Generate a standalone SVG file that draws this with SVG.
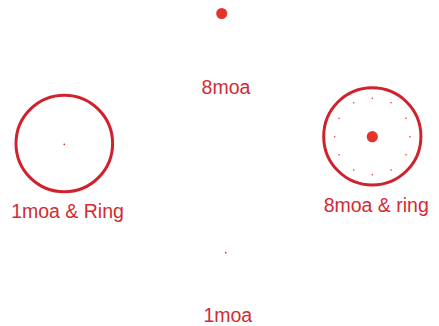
<svg xmlns="http://www.w3.org/2000/svg" width="439" height="326" viewBox="0 0 439 326">
<style>
.ring{fill:none;stroke:#d0222d;stroke-width:3}
.dot{fill:#e5332a}
.lbl{font-family:"Liberation Sans",Arial,sans-serif;font-size:19.5px;fill:#d42a31}
</style>
<rect width="439" height="326" fill="#fff"/>
<g id="reticle-8moa">
<circle class="dot" cx="221.7" cy="13.5" r="5.5"/>
<text class="lbl" x="226" y="94" text-anchor="middle">8moa</text>
</g>
<g id="reticle-1moa-ring">
<circle class="ring" cx="64.3" cy="143.5" r="48.3"/>
<circle class="dot" cx="64.3" cy="144.3" r="0.9"/>
<text class="lbl" x="67.5" y="217.5" text-anchor="middle">1moa &amp; Ring</text>
</g>
<g id="reticle-8moa-ring">
<circle class="ring" cx="372.3" cy="136.4" r="48.6"/>
<circle class="dot" cx="372.3" cy="136.7" r="5.6"/>
<g class="dot">
<circle cx="372.3" cy="98.3" r="0.8"/>
<circle cx="391" cy="102.7" r="0.8"/>
<circle cx="406" cy="118.3" r="0.8"/>
<circle cx="410" cy="136.7" r="0.8"/>
<circle cx="406" cy="154.7" r="0.8"/>
<circle cx="391" cy="170" r="0.8"/>
<circle cx="372.3" cy="174.7" r="0.8"/>
<circle cx="353.7" cy="170" r="0.8"/>
<circle cx="339" cy="154.7" r="0.8"/>
<circle cx="334.7" cy="136.7" r="0.8"/>
<circle cx="339" cy="118.3" r="0.8"/>
<circle cx="353.7" cy="102.7" r="0.8"/>
</g>
<text class="lbl" x="376.2" y="211.5" text-anchor="middle">8moa &amp; ring</text>
</g>
<g id="reticle-1moa">
<circle class="dot" cx="225.7" cy="252.7" r="0.9"/>
<text class="lbl" x="227.8" y="322" text-anchor="middle">1moa</text>
</g>
<g id="connectors"></g>
</svg>
